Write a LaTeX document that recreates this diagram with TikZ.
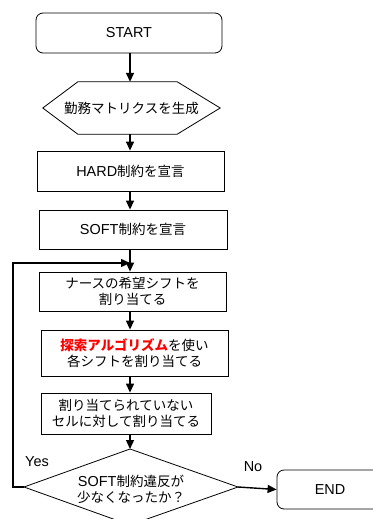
\documentclass[tikz,border=0pt]{standalone}
\usepackage{fontspec}
\setmainfont[Scale=1.07]{Liberation Sans}
\newfontfamily\jp{Noto Sans CJK JP}
\newcommand\J[1]{{\jp #1}}
\usetikzlibrary{arrows.meta,calc}
\begin{document}
\begin{tikzpicture}[x=1pt,y=-1pt,
  every node/.style={font=\fontsize{13.5}{16}\selectfont, align=center, inner sep=0pt},
  box/.style={draw, line width=0.8pt, rectangle},
  term/.style={draw, line width=0.8pt, rectangle, rounded corners=7pt},
  shapeline/.style={draw, line width=0.8pt},
  arr/.style={line width=1.4pt, -{Triangle[length=9pt,width=8pt]}}]
\useasboundingbox (0,0) rectangle (372,519);
\coordinate (ax) at (130,0);
\node[term, minimum width=186pt, minimum height=40pt] (start) at (129,33) {START};
\node[minimum width=177pt, minimum height=52pt] (hex) at (131.5,108) {\J{勤務マトリクスを生成}};
\draw[shapeline] (hex.west) -- ($(hex.north west)+(35,0)$) -- ($(hex.north east)+(-43,0)$) -- (hex.east)
  -- ($(hex.south east)+(-43,0)$) -- ($(hex.south west)+(35,0)$) -- cycle;
\node[box, minimum width=187pt, minimum height=40pt] (hard) at (130.5,171) {HARD\J{制約を宣言}};
\node[box, minimum width=188pt, minimum height=39pt] (soft) at (133,229.5) {SOFT\J{制約を宣言}};
\node[box, minimum width=187pt, minimum height=39pt] (nurse) at (132.5,291.5) {\J{ナースの希望シフトを}\\\J{割り当てる}};
\node[box, minimum width=187pt, minimum height=46pt] (search) at (134.5,353) {{\jp\bfseries\color{red}探索アルゴリズム}\J{を使い}\\\J{各シフトを割り当てる}};
\node[box, minimum width=170pt, minimum height=41pt] (unas) at (126,413.5) {\J{割り当てられていない}\\\J{セルに対して割り当てる}};
\coordinate (dt) at (130,449);
\coordinate (dl) at (24,487);
\coordinate (dr) at (238,487);
\coordinate (db) at (130,525);
\draw[shapeline] (dt) -- (dr) -- (db) -- (dl) -- cycle;
\node (dtext) at (131,489) {SOFT\J{制約違反が}\\\J{少なくなったか？}};
\node[term, minimum width=106pt, minimum height=39pt] (end) at (330,489.5) {END};
\node (yes) at (37,462) {Yes};
\node (no) at (253,467) {No};
\coordinate (lc) at (13,263);
\coordinate (joint) at (130,263);
\draw[arr] (start.south -| ax) -- (hex.north -| ax);
\draw[arr] (hex.south -| ax) -- (hard.north -| ax);
\draw[arr] (hard.south -| ax) -- (soft.north -| ax);
\draw[arr] (soft.south -| ax) -- (nurse.north -| ax);
\draw[arr] (nurse.south -| ax) -- (search.north -| ax);
\draw[arr] (search.south -| ax) -- (unas.north -| ax);
\draw[arr] (unas.south -| ax) -- (dt);
\draw[arr] (dr) -- (end.west);
\draw[arr] (dl) -| (lc) -- (joint);
\end{tikzpicture}
\end{document}
